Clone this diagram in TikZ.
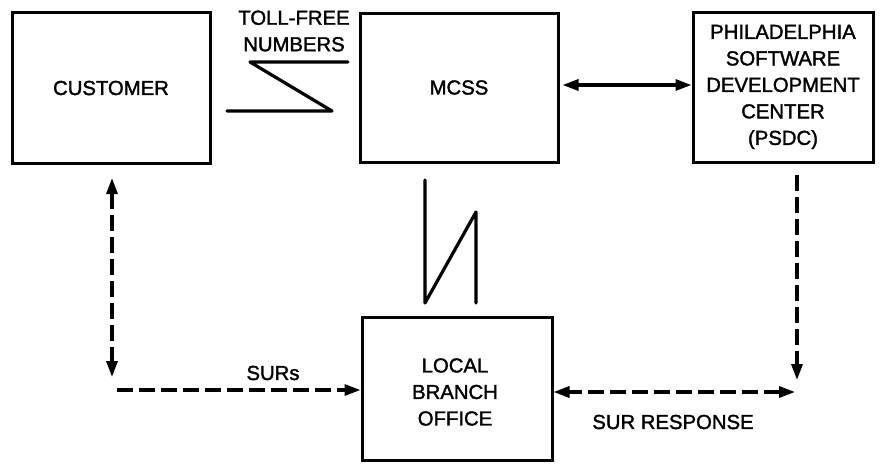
\documentclass[tikz,border=0pt]{standalone}
\usepackage{fontspec}
\setmainfont{Liberation Sans}[FakeBold=1.6,BoldFont=*]
\usetikzlibrary{arrows.meta}
\begin{document}
\begin{tikzpicture}[x=1pt,y=-1pt,
  box/.style={draw,line width=3pt,inner sep=0pt,align=center,font=\fontsize{20.3}{26.5}\selectfont\bfseries},
  lbl/.style={inner sep=0pt,align=center,font=\fontsize{20.3}{26.5}\selectfont\bfseries},
  ln/.style={line width=3.2pt,line cap=round,line join=round},
  dsh/.style={line width=3.2pt,dash pattern=on 16pt off 6pt},
  tip/.style={-{Triangle[length=16pt,width=11pt]}},
  tips/.style={{Triangle[length=16pt,width=11pt]}-{Triangle[length=16pt,width=11pt]}}]
\useasboundingbox (0,0) rectangle (883,463);
\node[box,minimum width=198pt,minimum height=151pt] (cust) at (111,88) {CUSTOMER};
\node[box,minimum width=198pt,minimum height=149pt] (mcss) at (459,87.5) {MCSS};
\node[box,minimum width=180pt,minimum height=150pt] (psdc) at (783,87) {PHILADELPHIA\\SOFTWARE\\DEVELOPMENT\\CENTER\\(PSDC)};
\node[box,minimum width=190pt,minimum height=143pt] (lbo) at (457,388.5) {};
\node[lbl] (lbot) at (455,392) {LOCAL\\BRANCH\\OFFICE};
\node[lbl] (toll) at (294,31) {TOLL-FREE\\NUMBERS};
\node[lbl] (surs) at (273,373) {SURs};
\node[lbl] (resp) at (673,422) {SUR RESPONSE};
% toll-free zigzag
\coordinate (z1) at (348,62);
\coordinate (z2) at (250,62);
\coordinate (z3) at (332,111);
\coordinate (z4) at (227,111);
\draw[ln] (z1) -- (z2) -- (z3) -- (z4);
% MCSS - local zigzag
\coordinate (v1) at (425,180);
\coordinate (v2) at (425,303);
\coordinate (v3) at (476,212);
\coordinate (v4) at (476,303);
\draw[ln] (v1) -- (v2) -- (v3) -- (v4);
% MCSS - PSDC
\draw[line width=3.2pt,tips] (mcss.east) ++(3,-2.5) coordinate (a1) -- (a1 -| psdc.west);
% customer dashed
\coordinate (c1) at (112,178);
\coordinate (c2) at (112,377);
\draw[dsh,tips] (c1) -- (c2);
\coordinate (c3) at (117,390);
\draw[dsh,tip] (c3) -- (c3 -| lbo.west);
% psdc dashed
\coordinate (p1) at (797,175);
\coordinate (p2) at (797,380);
\draw[dsh,tip] (p1) -- (p2);
\coordinate (p3) at (795,392);
\draw[dsh,tips] (p3) -- (p3 -| lbo.east);
\end{tikzpicture}
\end{document}
